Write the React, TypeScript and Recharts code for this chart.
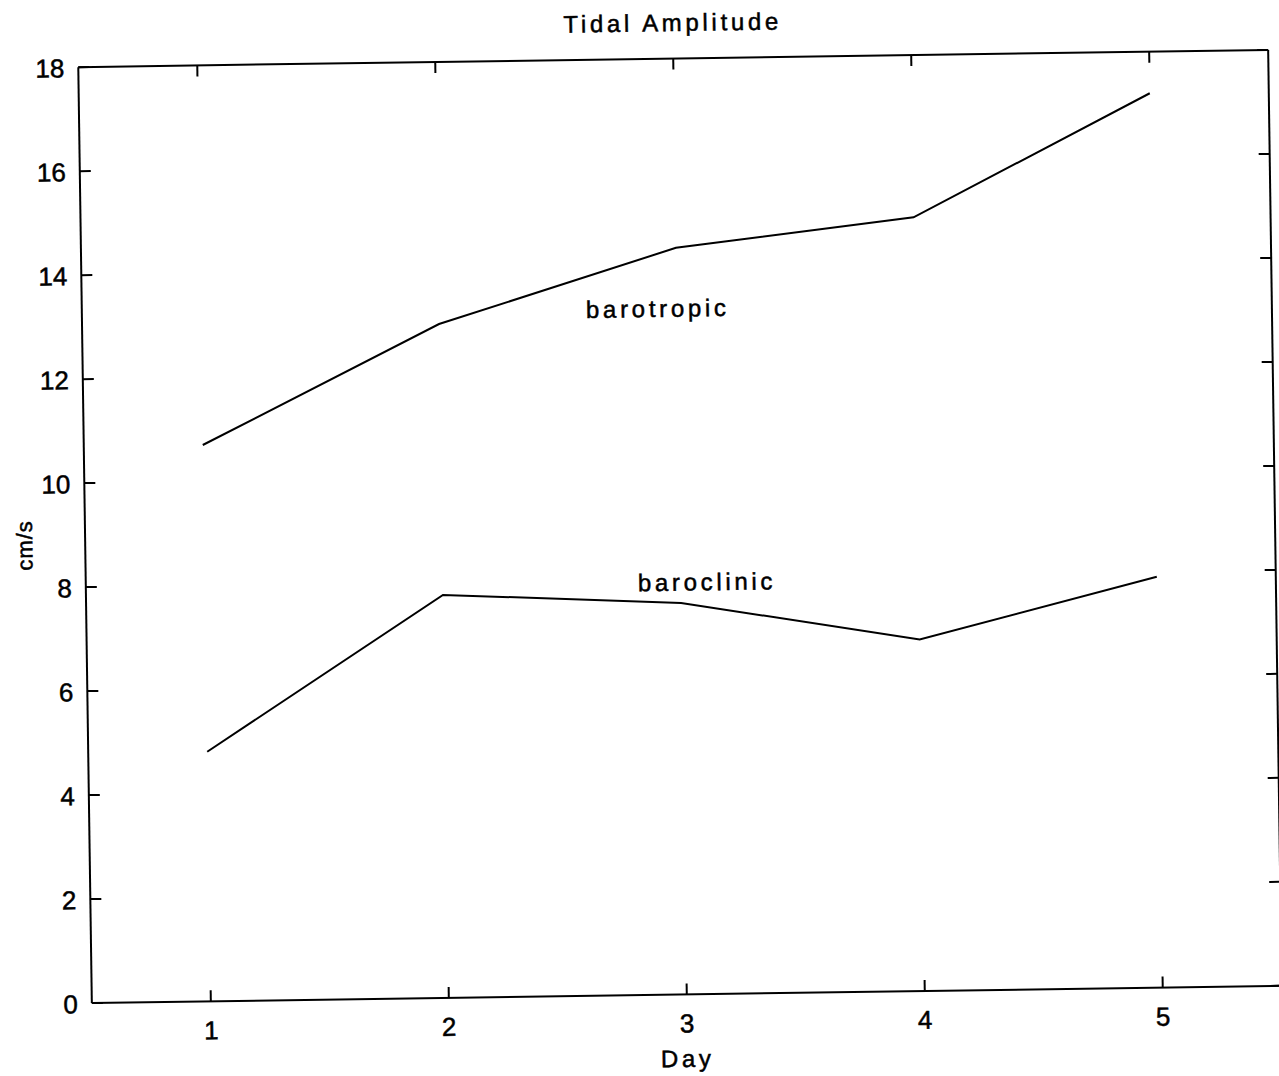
import { LineChart, Line, XAxis, YAxis, ReferenceDot } from 'recharts';

const days = [1, 2, 3, 4, 5];
const barotropic = [10.7, 12.96, 14.36, 14.88, 17.2];
const baroclinic = [4.8, 7.75, 7.53, 6.76, 7.9];

const dayTicks = [1, 2, 3, 4, 5];
const speedTicks = [0, 2, 4, 6, 8, 10, 12, 14, 16, 18];

// where the series names sit, in axis units
const seriesLabels = [
  { text: 'barotropic', day: 2.92, value: 13.2 },
  { text: 'baroclinic', day: 3.11, value: 7.93 },
];

const data = days.map((day, i) => ({
  day,
  barotropic: barotropic[i],
  baroclinic: baroclinic[i],
}));

const FONT = '"Liberation Sans", Arial, Helvetica, sans-serif';
const CHART_W = 1279;
const CHART_H = 1076;
const MARGIN = { top: 57.5, right: 2, bottom: 0, left: 0 };
const LEFT_AXIS_W = 85;
const RIGHT_AXIS_W = 2;
const TOP_AXIS_H = 1;
const BOTTOM_AXIS_H = 81.5;
const PLOT_W = CHART_W - MARGIN.left - MARGIN.right - LEFT_AXIS_W - RIGHT_AXIS_W;
const PLOT_H = CHART_H - MARGIN.top - MARGIN.bottom - TOP_AXIS_H - BOTTOM_AXIS_H;
const TICK_LEN = 11;
const axisLine = { stroke: '#000', strokeWidth: 2 };

// slightly heavy text, like the old plotter output
const textProps = {
  fill: '#000',
  stroke: '#000',
  strokeWidth: 0.5,
  fontFamily: FONT,
};

// ticks point into the plot box; each tick also draws its partner on the opposite side
function BottomTick({ x, y, payload }: any) {
  return (
    <g>
      <line x1={x} y1={y} x2={x} y2={y - TICK_LEN} stroke="#000" strokeWidth={2} />
      <line
        x1={x}
        y1={y - PLOT_H}
        x2={x}
        y2={y - PLOT_H + TICK_LEN}
        stroke="#000"
        strokeWidth={2}
      />
      <text x={x} y={y + 38} textAnchor="middle" fontSize={26} {...textProps}>
        {payload.value}
      </text>
    </g>
  );
}

function LeftTick({ x, y, payload }: any) {
  return (
    <g>
      <line x1={x} y1={y} x2={x + TICK_LEN} y2={y} stroke="#000" strokeWidth={2} />
      <line
        x1={x + PLOT_W}
        y1={y}
        x2={x + PLOT_W - TICK_LEN}
        y2={y}
        stroke="#000"
        strokeWidth={2}
      />
      <text x={x - 14} y={y + 10} textAnchor="end" fontSize={26} {...textProps}>
        {payload.value}
      </text>
    </g>
  );
}

export default function App() {
  return (
    <div
      style={{
        position: 'absolute',
        left: 0,
        top: 0,
        width: CHART_W,
        height: CHART_H,
        overflow: 'hidden',
        background: '#fff',
      }}
    >
      <div style={{ transform: 'rotate(-0.83deg)', transformOrigin: '680px 526.5px' }}>
        <LineChart width={CHART_W} height={CHART_H} data={data} margin={MARGIN}>
          <XAxis
            dataKey="day"
            type="number"
            domain={[0.5, 5.5]}
            ticks={dayTicks}
            interval={0}
            height={BOTTOM_AXIS_H}
            tickSize={0}
            tickMargin={0}
            axisLine={axisLine}
            tickLine={false}
            tick={(p: any) => <BottomTick {...p} />}
          />
          <XAxis
            xAxisId="top"
            orientation="top"
            dataKey="day"
            type="number"
            domain={[0.5, 5.5]}
            height={TOP_AXIS_H}
            axisLine={axisLine}
            tickLine={false}
            tick={false}
          />
          <YAxis
            type="number"
            domain={[0, 18]}
            ticks={speedTicks}
            interval={0}
            width={LEFT_AXIS_W}
            tickSize={0}
            tickMargin={0}
            axisLine={axisLine}
            tickLine={false}
            tick={(p: any) => <LeftTick {...p} />}
          />
          <YAxis
            yAxisId="right"
            orientation="right"
            type="number"
            domain={[0, 18]}
            width={RIGHT_AXIS_W}
            axisLine={axisLine}
            tickLine={false}
            tick={false}
          />
          <Line
            type="linear"
            dataKey="barotropic"
            stroke="#000"
            strokeWidth={2}
            dot={false}
            isAnimationActive={false}
          />
          <Line
            type="linear"
            dataKey="baroclinic"
            stroke="#000"
            strokeWidth={2}
            dot={false}
            isAnimationActive={false}
          />
          {seriesLabels.map((s) => (
            <ReferenceDot
              key={s.text}
              x={s.day}
              y={s.value}
              r={0}
              fill="none"
              stroke="none"
              label={{
                value: s.text,
                position: 'center',
                fontSize: 24,
                letterSpacing: 3.7,
                ...textProps,
              }}
            />
          ))}
          <text x={680} y={31} textAnchor="middle" fontSize={24} letterSpacing={3.7} {...textProps}>
            Tidal Amplitude
          </text>
          <text x={680} y={1067} textAnchor="middle" fontSize={24} letterSpacing={3.7} {...textProps}>
            Day
          </text>
          <text
            transform="translate(32,536) rotate(-90)"
            textAnchor="middle"
            fontSize={22}
            letterSpacing={1}
            {...textProps}
          >
            cm/s
          </text>
        </LineChart>
      </div>
    </div>
  );
}
